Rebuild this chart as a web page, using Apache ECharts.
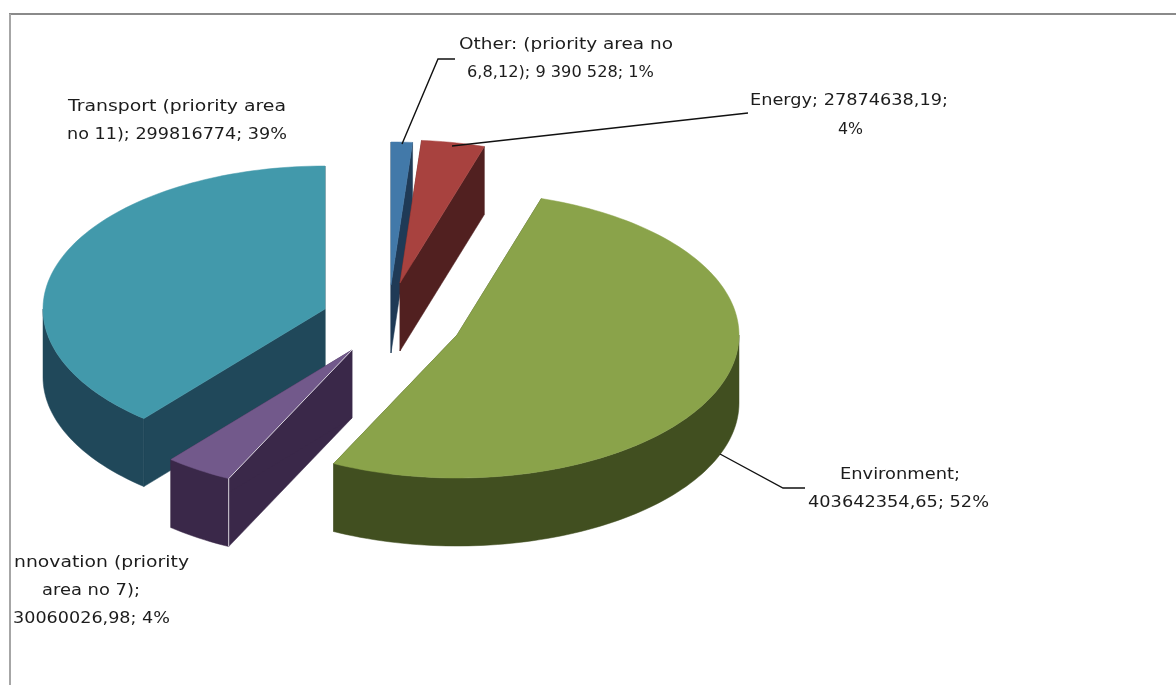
<!DOCTYPE html>
<html>
<head>
<meta charset="utf-8">
<style>html,body{margin:0;padding:0;background:#fff;overflow:hidden}#c{width:1176px;height:685px;filter:blur(0.35px)}</style>
<script src="https://cdn.jsdelivr.net/npm/echarts@6/dist/echarts.min.js"></script>
</head>
<body>
<div id="c"></div>
<script>
// Data, clockwise from the top of the pie
const categories = ['Other', 'Energy', 'Environment', 'Innovation', 'Transport'];
const seriesValues = [9390528, 27874638.19, 403642354.65, 30060026.98, 299816774];

// Label text, one array per line
const labelOther = ['Other: (priority area no', '6,8,12); 9 390 528; 1%'];
const labelEnergy = ['Energy; 27874638,19;', '4%'];
const labelEnvironment = ['Environment;', '403642354,65; 52%'];
const labelInnovation = ['nnovation (priority', 'area no 7);', '30060026,98; 4%'];
const labelTransport = ['Transport (priority area', 'no 11); 299816774; 39%'];

// Style and layout (separate from the data)
const topColors = ['#4279a9', '#a8423f', '#8aa34a', '#72598b', '#4299ab'];
const sideColors = ['#1f3a56', '#512020', '#414f20', '#3a2849', '#20485a'];
const apexes = [[391, 285], [400, 283], [457, 335], [352, 350], [325, 309]];
const rx = 282, ry = 143, depth = 68;
const drawOrder = [0, 1, 4, 3, 2];

const total = seriesValues.reduce((a, b) => a + b, 0);
const startAngles = [];
seriesValues.reduce((acc, v, i) => { startAngles[i] = acc; return acc + v / total * 360; }, 0);

function pt(i, deg, drop) {
  const r = deg * Math.PI / 180;
  return [apexes[i][0] + rx * Math.sin(r), apexes[i][1] - ry * Math.cos(r) + (drop || 0)];
}
function arcPts(i, a, b, drop) {
  const pts = [], n = Math.max(2, Math.ceil(Math.abs(b - a) / 1.5));
  for (let k = 0; k <= n; k++) pts.push(pt(i, a + (b - a) * k / n, drop));
  return pts;
}
function poly(points, fill) {
  return { type: 'polygon', shape: { points }, style: { fill, stroke: fill, lineWidth: 0.5 } };
}

function renderItem(params, api) {
  const i = api.value(0);
  const a = startAngles[i];
  const b = a + api.value(1) / total * 360;
  const ap = apexes[i], apLow = [ap[0], ap[1] + depth];
  const side = sideColors[i];
  const children = [];
  children.push(poly([ap, pt(i, a), pt(i, a, depth), apLow], side));
  children.push(poly([ap, pt(i, b), pt(i, b, depth), apLow], side));
  const fa = Math.max(a, 90), fb = Math.min(b, 270);
  if (fb > fa) {
    children.push(poly(arcPts(i, fa, fb, 0).concat(arcPts(i, fb, fa, depth)), side));
  }
  children.push(poly([ap].concat(arcPts(i, a, b, 0)), topColors[i]));
  if (categories[i] === 'Innovation') {
    children.push({ type: 'polyline', shape: { points: [ap, pt(i, a), pt(i, a, depth)] },
      style: { stroke: '#d8d4dc', lineWidth: 1, fill: null } });
  }
  return { type: 'group', children };
}

const font = '15px "DejaVu Sans"';
const measure = document.createElement('canvas').getContext('2d');
measure.font = font;
// Each line is stretched to the extent it occupies in the picture
function textLine(t, left, right, y) {
  const w = measure.measureText(t).width;
  return {
    type: 'text', silent: true, z: 20, x: left, y, scaleX: (right - left) / w,
    style: { text: t, x: 0, y: 0, textAlign: 'left', textVerticalAlign: 'middle', font, fill: '#1c1c1c' }
  };
}
function leader(points) {
  return { type: 'polyline', silent: true, z: 10, shape: { points }, style: { stroke: '#111', lineWidth: 1.4, fill: null } };
}
const frameTop = { type: 'line', silent: true, z: 1, shape: { x1: 9, y1: 14, x2: 1176, y2: 14 }, style: { stroke: '#8a8a8a', lineWidth: 2 } };
const frameLeft = { type: 'line', silent: true, z: 1, shape: { x1: 10, y1: 14, x2: 10, y2: 685 }, style: { stroke: '#a6a6a6', lineWidth: 2 } };

const chart = echarts.init(document.getElementById('c'), null, { renderer: 'canvas', width: 1176, height: 685 });
chart.setOption({
  animation: false,
  backgroundColor: '#fff',
  series: [{
    type: 'custom',
    coordinateSystem: 'none',
    renderItem,
    data: drawOrder.map(i => [i, seriesValues[i], categories[i]]),
    encode: { value: 1, itemName: 2 },
    silent: true,
    z: 5
  }],
  graphic: { elements: [
    frameTop, frameLeft,
    leader([[402, 144], [438, 59], [455, 59]]),
    leader([[452, 146], [748, 113]]),
    leader([[720, 454], [783, 488], [805, 488]]),
    textLine(labelOther[0], 459, 673, 45),
    textLine(labelOther[1], 467, 654, 73),
    textLine(labelEnergy[0], 750, 948, 101),
    textLine(labelEnergy[1], 838, 863, 130),
    textLine(labelEnvironment[0], 840, 960, 475),
    textLine(labelEnvironment[1], 808, 989, 503),
    textLine(labelTransport[0], 68, 286, 107),
    textLine(labelTransport[1], 67, 287, 135),
    textLine(labelInnovation[0], 14, 189, 563),
    textLine(labelInnovation[1], 42, 140, 591),
    textLine(labelInnovation[2], 13, 170, 619)
  ] }
});
</script>
</body>
</html>
